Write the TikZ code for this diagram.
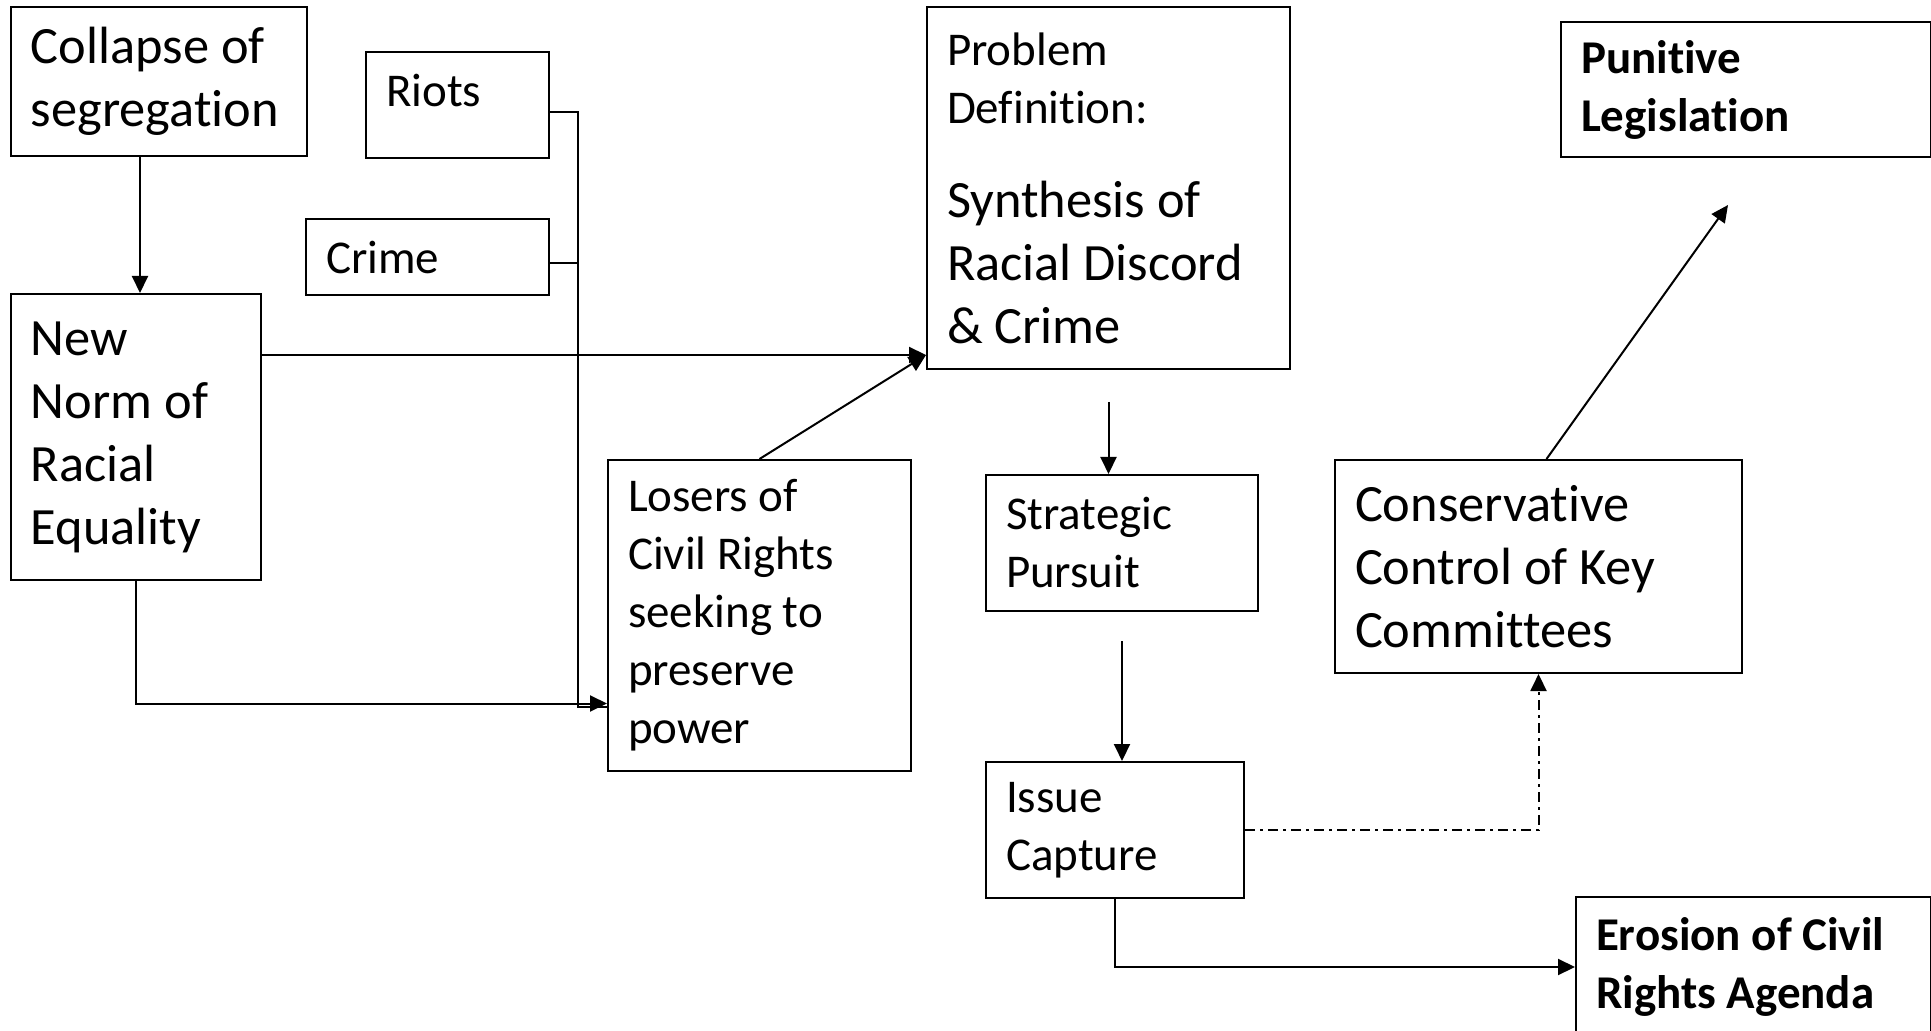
\documentclass[tikz,border=0pt]{standalone}
\usepackage{fontspec}
\setmainfont{Carlito}[Ligatures=NoCommon]
\usetikzlibrary{arrows.meta}
\newcommand{\bigtxt}{\fontsize{26.2}{31.5}\selectfont}
\newcommand{\smalltxt}{\fontsize{23.5}{29}\selectfont}
\begin{document}
\begin{tikzpicture}[x=0.5pt,y=-0.5pt,
  box/.style={draw=black, line width=1pt, anchor=north west, align=flush left, inner xsep=10pt, inner ysep=0pt},
  arr/.style={black, line width=1pt, -{Triangle[length=8.5pt,width=8pt]}},
  dashdot/.style={dash pattern=on 5pt off 2.5pt on 1.5pt off 2.5pt}]
\useasboundingbox (0,0) rectangle (1931,1031);
\node [box, text width=128pt, minimum height=74.5pt, font=\bigtxt] (collapse) at (10,6) {Collapse of\\segregation};
\node [box, text width=105pt, minimum height=143pt, font=\bigtxt] (newnorm) at (10,293) {New\\Norm of\\Racial\\Equality};
\node [box, text width=71.5pt, minimum height=53pt, text depth=14.5pt, font=\smalltxt] (riots) at (365,51) {Riots};
\node [box, text width=101.5pt, minimum height=38pt, font=\smalltxt] (crime) at (305,218) {Crime};
\node [box, text width=131.5pt, minimum height=155.5pt, font=\smalltxt] (losers) at (607,459) {Losers of\\Civil Rights\\seeking to\\preserve\\power};
\node [box, text width=161.5pt, minimum height=181pt] (problem) at (926,6) {{\smalltxt Problem\\Definition:\par}\vspace{15.5pt}{\bigtxt Synthesis of\\Racial Discord\\\& Crime\par}};
\node [box, text width=116pt, minimum height=68pt, font=\smalltxt] (strategic) at (985,474) {Strategic\\Pursuit};
\node [box, text width=109pt, minimum height=68pt, font=\smalltxt] (issue) at (985,761) {Issue\\Capture};
\node [box, text width=183.5pt, minimum height=106.5pt, font=\bigtxt] (conservative) at (1334,459) {Conservative\\Control of Key\\Committees};
\node [box, text width=165pt, minimum height=67.5pt, font=\smalltxt\bfseries] (punitive) at (1560,21) {Punitive\\Legislation};
\node [box, text width=157.5pt, minimum height=70pt, font=\smalltxt\bfseries] (erosion) at (1575,896) {Erosion of Civil\\Rights Agenda};
\coordinate (join) at (578,707);
\coordinate (merge) at ([yshift=-44pt]losers.west);
\coordinate (hit) at ([yshift=7.5pt]problem.south west);
\coordinate (legtip) at ([xshift=-9pt,yshift=-23.5pt]punitive.south);
\draw [arr] ([xshift=2pt]newnorm.north |- collapse.south) -- ([xshift=2pt]newnorm.north);
\draw [black, line width=1pt] ([yshift=-3.5pt]riots.east) -| (join) -- (join -| losers.west);
\draw [black, line width=1pt] ([yshift=-3pt]crime.east) -- ([yshift=-3pt]crime.east -| join);
\draw [arr] (newnorm.south) |- (merge);
\draw [arr] (newnorm.east |- hit) -- (hit);
\draw [arr] (losers.north) -- (hit);
\draw [arr] ([yshift=-16pt]problem.south) -- (problem.south |- strategic.north);
\draw [arr] ([yshift=-14.5pt]strategic.south) -- (strategic.south |- issue.north);
\draw [arr] (issue.south) |- (erosion.west);
\draw [arr, dashdot] (issue.east) -| (conservative.south);
\draw [arr] ([xshift=4pt]conservative.north) -- (legtip);
\end{tikzpicture}
\end{document}
